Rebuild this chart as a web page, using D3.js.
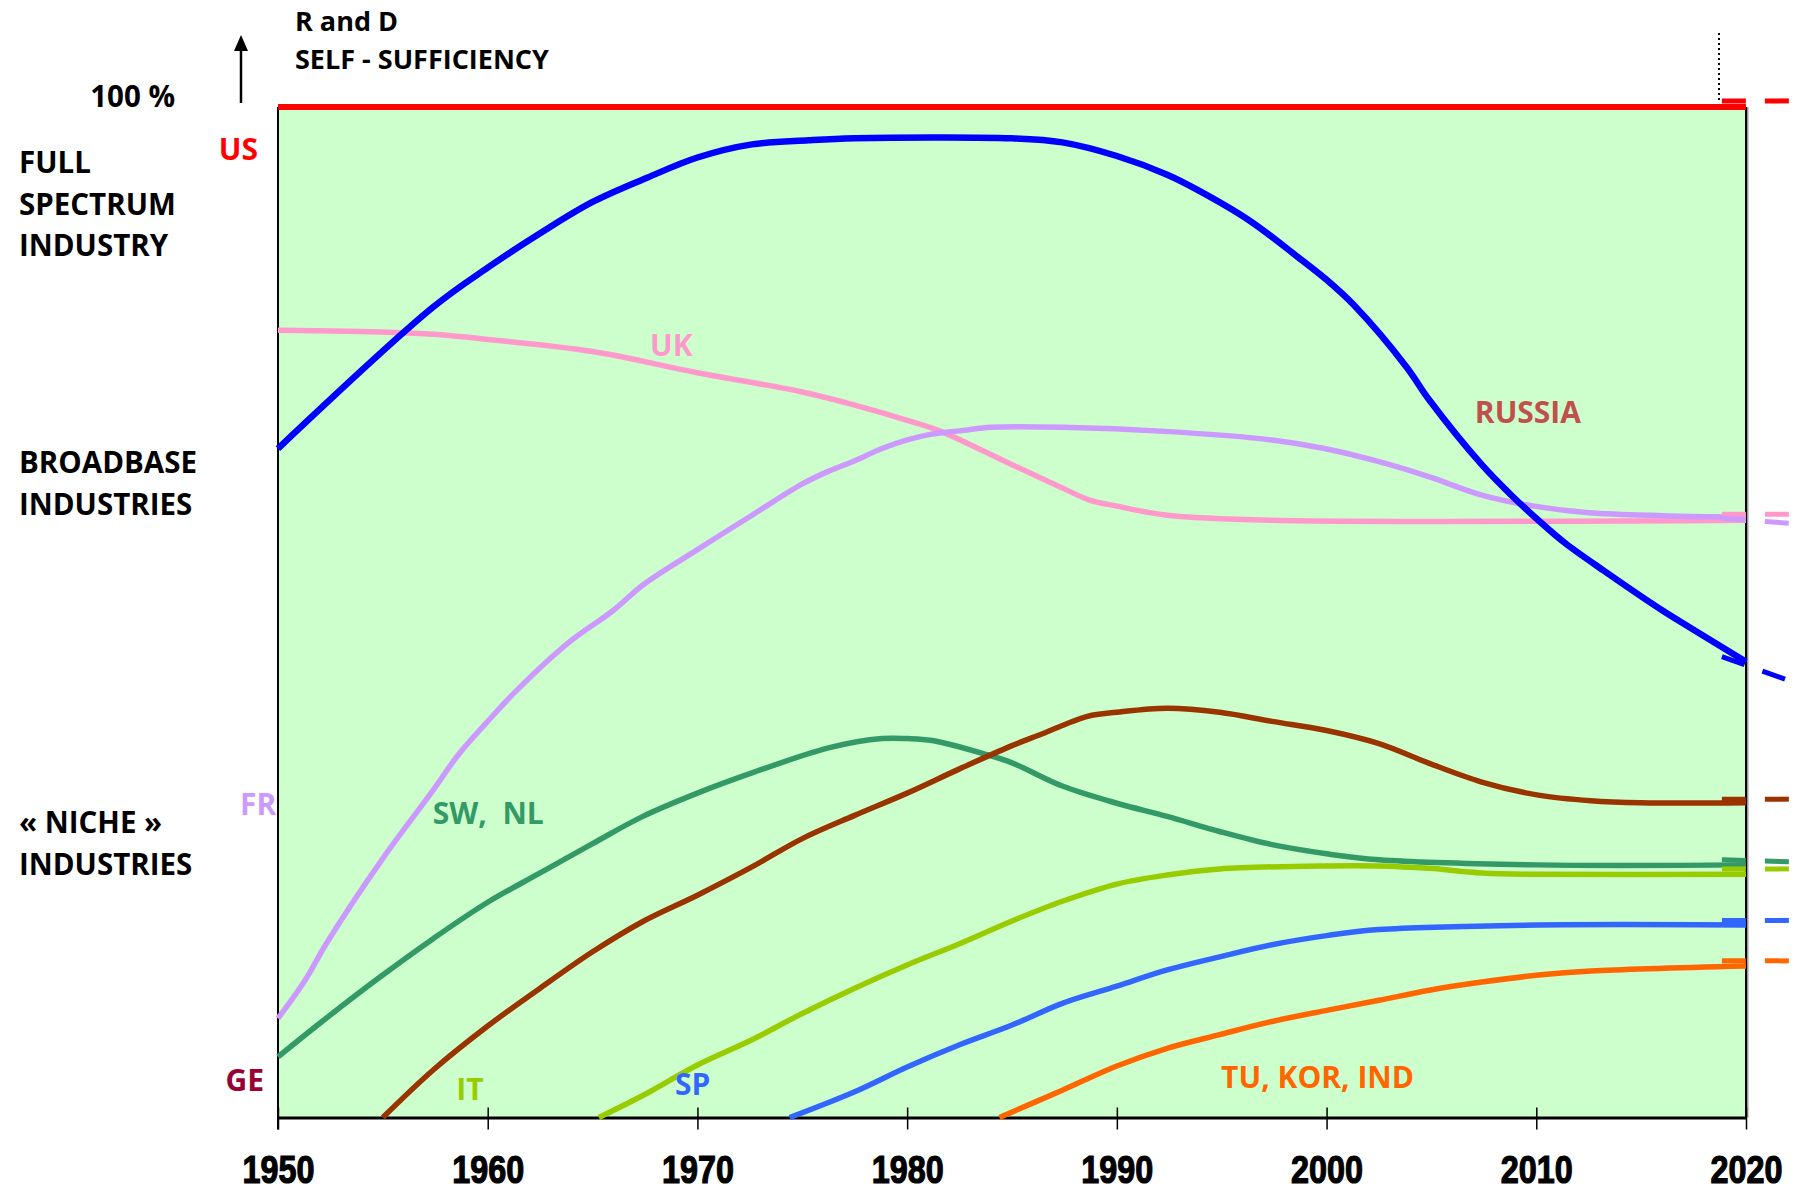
<!DOCTYPE html>
<meta charset="utf-8">
<style>
body{
	margin:0;
	background:#fff;
}
text{
	font-family:"Open Sans",sans-serif;
	font-weight:700;
}
.cat{
	font-size:29.5px;
	fill:#000;
}
.lab{
	font-size:30px;
}
.tick text{
	font-family:"Liberation Sans",Arial,sans-serif;
	font-weight:700;
	font-size:39px;
	fill:#000;
	stroke:#000;
	stroke-width:1.2px;
}
.tick line{
	stroke:#000;
	stroke-width:1.5px;
}
.xaxis .domain{
	stroke:#000;
	stroke-width:3px;
}
.series{
	fill:none;
	stroke-linejoin:round;
}
.proj{
	fill:none;
	stroke-width:5px;
	stroke-dasharray:24,19;
}
</style>
<body>
<script src="https://d3js.org/d3.v7.min.js"></script>
<script>

// decades on the x axis
var years=[1950,1960,1970,1980,1990,2000,2010,2020];

// R&D self-sufficiency, %
var us=[[1950,100],[2020,100]];
var russia=[[1950,66.2],[1957.4,80.2],[1960,84.1],[1962.5,87.5],[1965,90.6],[1967.6,93.0],[1970,95.0],[1972.6,96.3],[1975.3,96.7],[1977.5,96.9],[1985,96.9],[1987.4,96.5],[1990,95.15],[1992.4,93.3],[1993.8,91.85],[1996.3,88.8],[1998.6,85.2],[2000,82.9],[2001.3,80.4],[2003.8,74.3],[2004.9,71.0],[2007.4,64.6],[2008.8,61.6],[2010.1,59.1],[2011.4,56.8],[2013.3,54.0],[2016,50.2],[2017.4,48.4],[2020,45.1]];
var uk=[[1950,77.9],[1955.3,77.7],[1957.4,77.5],[1960,77.0],[1965,75.8],[1970,73.7],[1975,71.8],[1977.5,70.5],[1980,69.0],[1981.6,67.9],[1985,64.6],[1987.4,62.3],[1988.7,61.1],[1990,60.5],[1992.4,59.6],[1997.5,59.1],[2020,59.1]];
var fr=[[1950,9.8],[1951.3,13.6],[1952.3,17.2],[1955,25.65],[1957.4,32.4],[1958.6,35.9],[1960,39.2],[1961.3,42.1],[1963.8,46.9],[1966,50.2],[1967.4,52.7],[1970,56.2],[1972.6,59.6],[1975,62.7],[1976.3,64.0],[1977.5,65.0],[1978.8,66.2],[1980,67.05],[1981.1,67.6],[1982.7,68.0],[1984,68.3],[1987.4,68.3],[1992.3,67.9],[1997.4,67.05],[1999.9,66.2],[2002.5,64.9],[2004.9,63.4],[2007.4,61.6],[2009.9,60.5],[2012.5,59.85],[2020,59.4]];
var swnl=[[1950,6.0],[1952.1,9.5],[1954.8,13.8],[1957.4,17.7],[1960,21.3],[1962.5,24.2],[1965,27.1],[1967.4,29.8],[1970,32.1],[1972.6,34.1],[1976.3,36.6],[1978.8,37.5],[1980,37.5],[1981.2,37.3],[1983.8,35.9],[1985,35.1],[1987.4,32.8],[1990,31.1],[1992.4,29.8],[1994.9,28.3],[1997.4,27.0],[2000,26.1],[2002.5,25.5],[2010,25.0],[2020,25.0]];
var ge=[[1955,0],[1957.4,4.7],[1960,9.05],[1962.5,12.8],[1965,16.4],[1967.4,19.4],[1970,22.0],[1972.6,24.8],[1975,27.6],[1977.5,29.9],[1980,32.1],[1982.5,34.5],[1985,36.8],[1986.3,37.85],[1988.6,39.7],[1990,40.1],[1992.4,40.5],[1994.9,40.1],[1997.4,39.2],[2000,38.3],[2002.5,37.0],[2004.9,35.05],[2007.4,33.2],[2010.1,31.9],[2012.6,31.35],[2015,31.15],[2020,31.15]];
var it=[[1965.3,0],[1967.6,2.4],[1970,5.2],[1972.6,7.7],[1975,10.3],[1977.5,12.8],[1980,15.1],[1982.5,17.2],[1985,19.45],[1987.4,21.4],[1990,23.1],[1992.4,24.0],[1994.9,24.6],[2000,24.9],[2002.5,24.9],[2004.9,24.66],[2007.4,24.2],[2010.1,24.07],[2020,24.07]];
var sp=[[1974.4,0],[1977.5,2.55],[1980,5.0],[1982.5,7.2],[1985,9.15],[1987.4,11.3],[1990,13.0],[1992.4,14.6],[1994.9,15.9],[1997.4,17.1],[2000,18.0],[2002.5,18.6],[2010.1,19.05],[2020,19.05]];
var tki=[[1984.4,0],[1987.4,2.7],[1990,5.1],[1992.4,6.85],[1994.9,8.2],[1997.4,9.5],[2000,10.6],[2002.5,11.6],[2004.9,12.6],[2007.4,13.4],[2010.1,14.1],[2012.6,14.5],[2020,15.0]];

// dashed projection past 2020: [value at start, value at end]
var projYears=[2018.85,2022.1];
var proj={us:[100.6,100.6],russia:[45.6,43.2],uk:[59.7,59.7],fr:[59.3,58.8],ge:[31.5,31.5],swnl:[25.5,25.3],it:[24.6,24.6],sp:[19.5,19.5],tki:[15.5,15.5]};

var color={us:"#ff0000",russia:"#0000ff",uk:"#ff99cc",fr:"#cc99ff",ge:"#993300",swnl:"#339966",it:"#99cc00",sp:"#3366ff",tki:"#ff6600"};

var series=[
	{key:"us",pts:us,w:6},
	{key:"uk",pts:uk,w:5.5},
	{key:"fr",pts:fr,w:5.5},
	{key:"swnl",pts:swnl,w:5.5},
	{key:"it",pts:it,w:5.5},
	{key:"ge",pts:ge,w:5.5},
	{key:"sp",pts:sp,w:5.5},
	{key:"tki",pts:tki,w:5.5},
	{key:"russia",pts:russia,w:6.5}
];

var svg=d3.select("body").append("svg").attr("width",1799).attr("height",1192);

var x=d3.scaleLinear().domain([1950,2020]).range([278,1746]);
var y=d3.scaleLinear().domain([0,100]).range([1117.5,107]);

// plot background
svg.append("rect")
	.attr("x",x(1950)).attr("y",y(100))
	.attr("width",x(2020)-x(1950)).attr("height",y(0)-y(100))
	.attr("fill","#ccffcc");

// right border
svg.append("line").attr("x1",x(2020)+1.5).attr("x2",x(2020)+1.5).attr("y1",y(100)).attr("y2",y(0))
	.attr("stroke","#999").attr("stroke-width",2);
svg.append("line").attr("x1",x(2020)).attr("x2",x(2020)).attr("y1",y(100)).attr("y2",y(0))
	.attr("stroke","#000").attr("stroke-width",2);

// left axis
svg.append("line").attr("x1",x(1950)).attr("x2",x(1950)).attr("y1",y(100)).attr("y2",y(0)+12)
	.attr("stroke","#000").attr("stroke-width",2);

var xa=svg.append("g").attr("class","xaxis")
	.attr("transform","translate(0,"+y(0)+")")
	.call(d3.axisBottom(x).tickValues(years).tickFormat(d3.format("d")).tickSizeOuter(0).tickPadding(0));
xa.selectAll(".tick line").attr("y1",-10).attr("y2",12);
xa.selectAll(".tick text").attr("y",66).attr("dy",null)
	.attr("transform","scale(0.83,1)");

var line=d3.line().x(d=>x(d[0])).y(d=>y(d[1])).curve(d3.curveCatmullRom.alpha(0.5));

svg.selectAll(".series").data(series).enter().append("path")
	.attr("class","series")
	.attr("d",d=>line(d.pts))
	.attr("stroke",d=>color[d.key])
	.attr("stroke-width",d=>d.w);

svg.selectAll(".proj").data(series).enter().append("path")
	.attr("class","proj")
	.attr("d",d=>d3.line()(projYears.map((yr,i)=>[x(yr),y(proj[d.key][i])])))
	.attr("stroke",d=>color[d.key]);

// dotted marker above 2020
svg.append("line").attr("x1",1719).attr("x2",1719).attr("y1",33).attr("y2",100)
	.attr("stroke","#000").attr("stroke-width",2).attr("stroke-dasharray","2,3");

// arrow and y caption
svg.append("line").attr("x1",241).attr("x2",241).attr("y1",103).attr("y2",48)
	.attr("stroke","#000").attr("stroke-width",2.5);
svg.append("path").attr("d","M241,35L234,51L248,51Z").attr("fill","#000");
svg.append("text").attr("class","cat").attr("x",295).attr("y",31).style("font-size","27px").text("R and D");
svg.append("text").attr("class","cat").attr("x",295).attr("y",69).style("font-size","27px").text("SELF - SUFFICIENCY");
svg.append("text").attr("class","cat").attr("x",175).attr("y",107).attr("text-anchor","end").text("100 %");

// categories on the left
var cats=[["FULL",173],["SPECTRUM",215],["INDUSTRY",256],["BROADBASE",473],["INDUSTRIES",515],["\u00ab NICHE \u00bb",833],["INDUSTRIES",875]];
svg.selectAll(".catl").data(cats).enter().append("text")
	.attr("class","cat")
	.attr("x",19).attr("y",d=>d[1]).text(d=>d[0]);

// series labels, placed in data space
var labels=[
	{t:"US",yr:1949.05,v:94.75,c:"#ff0000",a:"end"},
	{t:"FR",yr:1949.92,v:29.9,c:"#cc99ff",a:"end"},
	{t:"GE",yr:1949.33,v:2.6,c:"#990033",a:"end"},
	{t:"UK",yr:1967.74,v:75.36,c:"#ff99cc",a:"start"},
	{t:"RUSSIA",yr:2007.07,v:68.76,c:"#c0504d",a:"start"},
	{t:"SW,  NL",yr:1957.38,v:29.05,c:"#339966",a:"start"},
	{t:"IT",yr:1958.5,v:1.73,c:"#99cc00",a:"start"},
	{t:"SP",yr:1968.93,v:2.23,c:"#3366ff",a:"start"},
	{t:"TU, KOR, IND",yr:1994.97,v:2.92,c:"#ff6600",a:"start"}
];
svg.selectAll(".lab").data(labels).enter().append("text")
	.attr("class","lab")
	.attr("x",d=>x(d.yr)).attr("y",d=>y(d.v))
	.attr("text-anchor",d=>d.a)
	.attr("fill",d=>d.c)
	.style("white-space","pre")
	.text(d=>d.t);

</script>
</body>
